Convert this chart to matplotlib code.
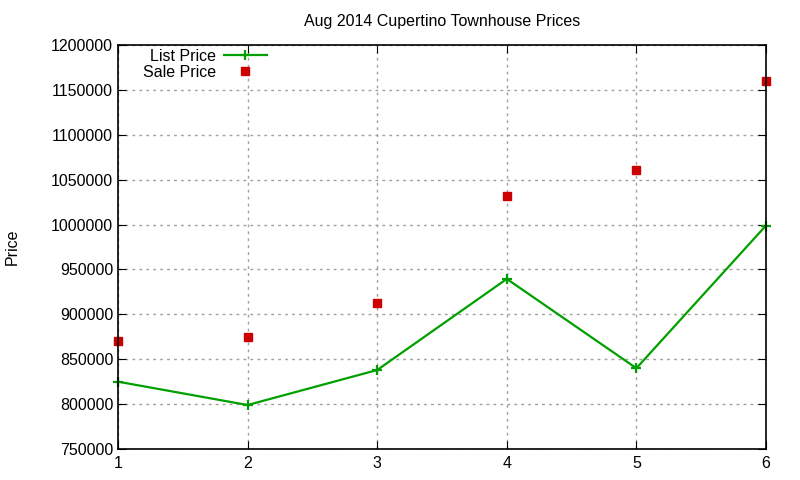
import numpy as np
import matplotlib.pyplot as plt
from matplotlib.ticker import FormatStrFormatter

plt.rcParams['font.family'] = ['Liberation Sans', 'DejaVu Sans']

# Datos
semanas = [1, 2, 3, 4, 5, 6]
precio_lista = [825000, 799000, 838000, 939500, 840000, 999000]
precio_venta = [870000, 875000, 913000, 1032000, 1061000, 1160000]

fig = plt.figure(figsize=(8, 4.8), dpi=100)
ax = fig.add_axes([0.1475, 0.0646, 0.81, 0.8414])

ax.plot(semanas, precio_lista, color='#00a000', lw=1.6, marker='+', ms=7, mew=1.6,
        label='List Price', clip_on=False)
ax.plot(semanas, precio_venta, ls='none', color='#cc0000', marker='s', ms=6,
        label='Sale Price', clip_on=False)

ax.set_xlim(1, 6)
ax.set_ylim(750000, 1200000)
ax.set_yticks(np.arange(750000, 1200001, 50000))
ax.yaxis.set_major_formatter(FormatStrFormatter('%d'))
ax.set_xticks(semanas)
ax.grid(True, color='#a0a0a0', ls=(0, (2, 3)), lw=1)
ax.tick_params(direction='in', top=True, right=True, labelsize=11.5, length=6)
ax.tick_params(axis='x', pad=5)
for s in ax.spines.values():
    s.set_linewidth(1.2)

ax.set_ylabel('Price', fontsize=11.5)
ax.yaxis.set_label_coords(-0.152, 0.5)
ax.set_title('Aug 2014 Cupertino Townhouse Prices', fontsize=11.5, pad=14)

ax.legend(loc='upper left', bbox_to_anchor=(0.021, 1.018), frameon=False, markerfirst=False,
          fontsize=11.5, handlelength=2.7, handletextpad=0.5, labelspacing=0.05,
          borderaxespad=0.3)

fig.savefig('out.png', dpi=100)
